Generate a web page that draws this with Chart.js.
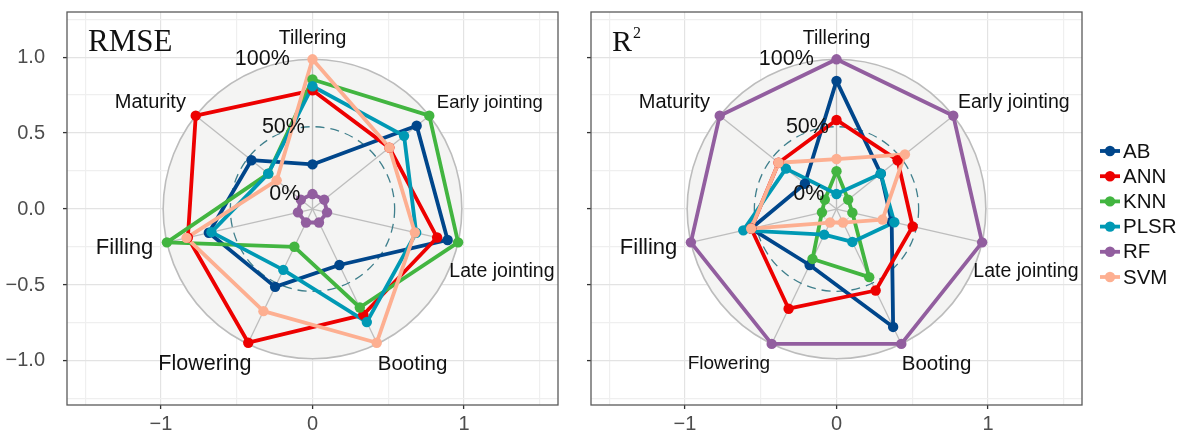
<!DOCTYPE html>
<html>
<head>
<meta charset="utf-8">
<script src="https://cdn.jsdelivr.net/npm/chart.js@4.4.1/dist/chart.umd.min.js"></script>
<style>
  html, body { margin: 0; padding: 0; background: #ffffff; }
  #wrap { position: relative; width: 1182px; height: 433px; overflow: hidden; }
  #rmseChart { position: absolute; left: 0; top: 0; }
  #r2Chart { position: absolute; left: 580px; top: 0; }
</style>
</head>
<body>
<div id="wrap">
  <canvas id="rmseChart" width="580" height="433"></canvas>
  <canvas id="r2Chart" width="602" height="433"></canvas>
</div>
<script>
// Growth stages, clockwise from the top of the radar
const stages = ['Tillering', 'Early jointing', 'Late jointing', 'Booting', 'Flowering', 'Filling', 'Maturity'];
const models = ['AB', 'ANN', 'KNN', 'PLSR', 'RF', 'SVM'];
const gridLabels = ['0%', '50%', '100%'];
const xTickValues = [-1, 0, 1];
const yTickValues = [-1, -0.5, 0, 0.5, 1];

// RMSE per stage, rescaled to 0–1
const rmseAB   = [0.22, 0.88, 0.92, 0.35, 0.53, 0.68, 0.47];
const rmseANN  = [0.77, 0.62, 0.84, 0.76, 0.99, 0.84, 1.00];
const rmseKNN  = [0.85, 1.00, 1.00, 0.70, 0.20, 1.00, 0.31];
const rmsePLSR = [0.80, 0.76, 0.68, 0.82, 0.39, 0.66, 0.31];
const rmseRF   = [0.00, 0.00, 0.00, 0.00, 0.00, 0.00, 0.00];
const rmseSVM  = [1.00, 0.62, 0.67, 0.99, 0.73, 0.85, 0.23];

// R² per stage, rescaled to 0–1
const r2AB   = [0.84, 0.31, 0.31, 0.86, 0.35, 0.54, 0.19];
const r2ANN  = [0.55, 0.47, 0.47, 0.56, 0.71, 0.54, 0.44];
const r2KNN  = [0.17, 0.00, 0.01, 0.45, 0.30, 0.00, 0.00];
const r2PLSR = [0.00, 0.31, 0.33, 0.16, 0.10, 0.60, 0.37];
const r2RF   = [1.00, 1.00, 1.00, 1.00, 1.00, 1.00, 1.00];
const r2SVM  = [0.26, 0.54, 0.24, 0.00, 0.00, 0.54, 0.44];

const modelColors = ['#00468B', '#ED0000', '#42B540', '#0099B4', '#925E9F', '#FDAF91'];

// ---- radar geometry (ggradar style: centre offset of 1/9 of the grid range) ----
const CENTRE_OFFSET = 1 / 9;
const RADIUS_SCALE = 0.887;
const radiusOf = v => (v + CENTRE_OFFSET) * RADIUS_SCALE;
const angleOf = i => Math.PI / 2 - i * 2 * Math.PI / stages.length;
function toXY(values) {
  const pts = values.map((v, i) => ({ x: radiusOf(v) * Math.cos(angleOf(i)), y: radiusOf(v) * Math.sin(angleOf(i)) }));
  pts.push({ ...pts[0] });
  return pts;
}

function buildDatasets(seriesList) {
  const lines = seriesList.map((vals, k) => ({
    label: models[k], data: toXY(vals), showLine: true,
    borderColor: modelColors[k], backgroundColor: modelColors[k],
    borderWidth: 3.8, pointRadius: 0, pointHoverRadius: 0,
    borderJoinStyle: 'round', order: 20 - k
  }));
  const dots = seriesList.map((vals, k) => ({
    label: models[k] + ' points', data: toXY(vals).slice(0, stages.length), showLine: false,
    borderColor: modelColors[k], backgroundColor: modelColors[k],
    pointRadius: 5.2, pointBorderWidth: 0, order: 10 - k
  }));
  return lines.concat(dots);
}

// label anchors (axis units) and font sizes for the stage names
const stageLabelLayout = {
  anchors: [[0, 1.12], [1.17, 0.70], [1.25, -0.41], [0.66, -1.025], [-0.71, -1.02], [-1.24, -0.255], [-1.07, 0.70]],
  sizesLeft: [19.5, 18.5, 19.5, 20.5, 21.5, 22, 20],
  sizesRight: [19.5, 19.5, 19.5, 20.5, 19, 22, 20]
};
const gridLabelLayout = { rightEdge: [-0.08, -0.05, -0.15], size: 21.5 };

const radarBackground = {
  id: 'radarBackground',
  beforeDatasetsDraw(chart) {
    const { ctx, chartArea, scales: { x, y } } = chart;
    const cx = x.getPixelForValue(0), cy = y.getPixelForValue(0);
    const kx = x.getPixelForValue(1) - cx, ky = cy - y.getPixelForValue(1);
    const rMax = radiusOf(1), rMid = radiusOf(0.5), rMin = radiusOf(0);
    ctx.save();
    ctx.beginPath();
    ctx.rect(chartArea.left, chartArea.top, chartArea.width, chartArea.height);
    ctx.clip();
    // shaded disc
    ctx.beginPath();
    ctx.ellipse(cx, cy, rMax * kx, rMax * ky, 0, 0, Math.PI * 2);
    ctx.fillStyle = '#f4f4f3';
    ctx.fill();
    // spokes
    ctx.strokeStyle = '#bdbdbd';
    ctx.lineWidth = 1.3;
    for (let i = 0; i < stages.length; i++) {
      ctx.beginPath();
      ctx.moveTo(cx, cy);
      ctx.lineTo(cx + rMax * kx * Math.cos(angleOf(i)), cy - rMax * ky * Math.sin(angleOf(i)));
      ctx.stroke();
    }
    // outer ring
    ctx.beginPath();
    ctx.ellipse(cx, cy, rMax * kx, rMax * ky, 0, 0, Math.PI * 2);
    ctx.strokeStyle = '#bcbcbc';
    ctx.lineWidth = 1.6;
    ctx.stroke();
    // mid ring
    ctx.beginPath();
    ctx.setLineDash([9, 6]);
    ctx.ellipse(cx, cy, rMid * kx, rMid * ky, 0, 0, Math.PI * 2);
    ctx.strokeStyle = '#3f7f8c';
    ctx.lineWidth = 1.3;
    ctx.stroke();
    // inner ring
    ctx.beginPath();
    ctx.setLineDash([5, 4]);
    ctx.ellipse(cx, cy, rMin * kx, rMin * ky, 0, 0, Math.PI * 2);
    ctx.strokeStyle = '#c8c8c8';
    ctx.lineWidth = 1;
    ctx.stroke();
    ctx.restore();
  }
};

const radarText = {
  id: 'radarText',
  afterDatasetsDraw(chart, args, opts) {
    const { ctx, chartArea, scales: { x, y } } = chart;
    ctx.save();
    ctx.fillStyle = '#111111';
    ctx.textBaseline = 'middle';
    // stage names
    stages.forEach((name, i) => {
      const [ax, ay] = stageLabelLayout.anchors[i];
      ctx.font = opts.labelSizes[i] + 'px "Liberation Sans", Arial, sans-serif';
      ctx.textAlign = 'center';
      ctx.fillText(name, x.getPixelForValue(ax), y.getPixelForValue(ay));
    });
    // ring percentages
    ctx.font = gridLabelLayout.size + 'px "Liberation Sans", Arial, sans-serif';
    ctx.textAlign = 'right';
    [0, 0.5, 1].forEach((v, i) => {
      ctx.fillText(gridLabels[i], x.getPixelForValue(gridLabelLayout.rightEdge[i]), y.getPixelForValue(radiusOf(v)));
    });
    // panel title
    ctx.textAlign = 'left';
    ctx.textBaseline = 'alphabetic';
    const tx = chartArea.left + 21, ty = chartArea.top + 39;
    if (opts.title === 'RMSE') {
      ctx.font = '31px "Liberation Serif", "Times New Roman", serif';
      ctx.fillText('RMSE', tx, ty);
    } else {
      ctx.font = '30px "Liberation Serif", "Times New Roman", serif';
      ctx.fillText('R', tx, ty);
      const w = ctx.measureText('R').width;
      ctx.font = '16px "Liberation Serif", "Times New Roman", serif';
      ctx.fillText('2', tx + w + 1, ty - 13);
    }
    ctx.restore();
  },
  afterDraw(chart) {
    const { ctx, chartArea } = chart;
    ctx.save();
    ctx.strokeStyle = '#5a5a5a';
    ctx.lineWidth = 1.3;
    ctx.strokeRect(chartArea.left, chartArea.top, chartArea.width, chartArea.height);
    ctx.restore();
  }
};

const modelLegend = {
  id: 'modelLegend',
  afterDraw(chart, args, opts) {
    if (!opts.show) return;
    const { ctx, chartArea } = chart;
    ctx.save();
    const x0 = chartArea.right + 18;
    models.forEach((m, k) => {
      const yy = chartArea.top + 139 + k * 25.2;
      ctx.strokeStyle = modelColors[k];
      ctx.fillStyle = modelColors[k];
      ctx.lineWidth = 3.8;
      ctx.beginPath();
      ctx.moveTo(x0, yy);
      ctx.lineTo(x0 + 20, yy);
      ctx.stroke();
      ctx.beginPath();
      ctx.arc(x0 + 10, yy, 5.2, 0, Math.PI * 2);
      ctx.fill();
      ctx.fillStyle = '#111111';
      ctx.font = '20.5px "Liberation Sans", Arial, sans-serif';
      ctx.textBaseline = 'middle';
      ctx.textAlign = 'left';
      ctx.fillText(m, x0 + 23, yy + 1);
    });
    ctx.restore();
  }
};

const minus = s => s.replace('-', '\u2212');

function makeScales(showYLabels, yAxisWidth) {
  return {
    x: {
      type: 'linear', min: -1.62, max: 1.62,
      border: { display: false },
      afterBuildTicks: s => { s.ticks = [-1.5, -1, -0.5, 0, 0.5, 1, 1.5].map(v => ({ value: v })); },
      afterFit: s => { s.height = 28; s.paddingLeft = 0; s.paddingRight = 0; },
      grid: {
        color: c => xTickValues.includes(c.tick && c.tick.value) ? '#e3e3e3' : '#efefef',
        tickColor: c => xTickValues.includes(c.tick && c.tick.value) ? '#333333' : 'rgba(0,0,0,0)',
        lineWidth: 1.2, tickLength: 4, tickWidth: 1.3
      },
      ticks: {
        autoSkip: false, maxRotation: 0, padding: 3, color: '#4d4d4d',
        font: { family: '"Liberation Sans", Arial, sans-serif', size: 20 },
        callback: v => xTickValues.includes(v) ? minus(String(v)) : ''
      }
    },
    y: {
      type: 'linear', min: -1.29, max: 1.297,
      border: { display: false },
      afterBuildTicks: s => { s.ticks = [-1.25, -1, -0.75, -0.5, -0.25, 0, 0.25, 0.5, 0.75, 1, 1.25].map(v => ({ value: v })); },
      afterFit: s => { s.width = yAxisWidth; s.paddingTop = 0; s.paddingBottom = 0; },
      grid: {
        color: c => yTickValues.includes(c.tick && c.tick.value) ? '#e3e3e3' : '#efefef',
        tickColor: c => yTickValues.includes(c.tick && c.tick.value) ? '#333333' : 'rgba(0,0,0,0)',
        lineWidth: 1.2, tickLength: 4, tickWidth: 1.3
      },
      ticks: {
        display: showYLabels, autoSkip: false, padding: 18, color: '#4d4d4d',
        font: { family: '"Liberation Sans", Arial, sans-serif', size: 20 },
        callback: v => yTickValues.includes(v) ? minus(v.toFixed(1)) : ''
      }
    }
  };
}

function makeChart(canvasId, seriesList, title, showYLabels, yAxisWidth, padRight, labelSizes, showLegend) {
  return new Chart(document.getElementById(canvasId), {
    type: 'scatter',
    data: { datasets: buildDatasets(seriesList) },
    options: {
      responsive: false, animation: false, devicePixelRatio: 1,
      layout: { padding: { left: 0, top: 12, right: padRight, bottom: 0 } },
      scales: makeScales(showYLabels, yAxisWidth),
      plugins: {
        legend: { display: false }, tooltip: { enabled: false },
        radarText: { title: title, labelSizes: labelSizes },
        modelLegend: { show: showLegend }
      }
    },
    plugins: [radarBackground, radarText, modelLegend]
  });
}

makeChart('rmseChart', [rmseAB, rmseANN, rmseKNN, rmsePLSR, rmseRF, rmseSVM], 'RMSE', true, 67, 22, stageLabelLayout.sizesLeft, false);
makeChart('r2Chart', [r2AB, r2ANN, r2KNN, r2PLSR, r2RF, r2SVM], 'R2', false, 11, 100, stageLabelLayout.sizesRight, true);
</script>
</body>
</html>
